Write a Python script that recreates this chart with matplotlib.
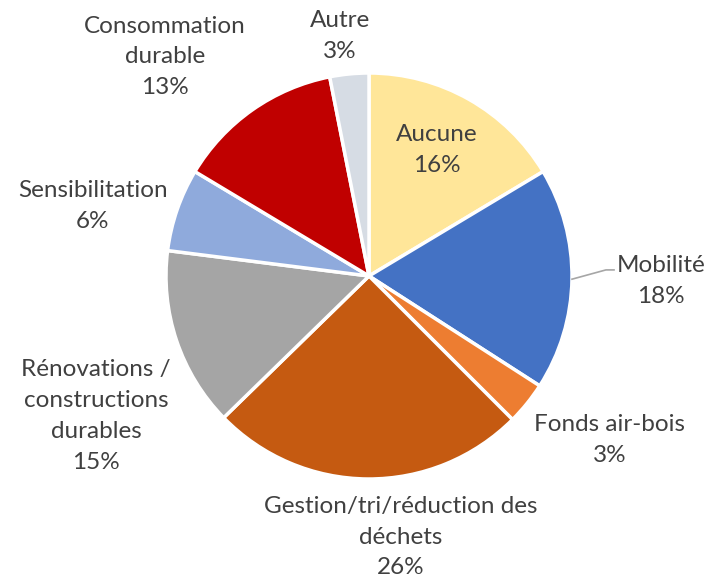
import numpy as np
import matplotlib
matplotlib.use("Agg")
import matplotlib.pyplot as plt

categories = ["Aucune", "Mobilité", "Fonds air-bois", "Gestion/tri/réduction des\ndéchets",
              "Rénovations /\nconstructions\ndurables", "Sensibilitation", "Consommation\ndurable", "Autre"]
values = [16.4, 17.7, 3.4, 25.2, 14.3, 6.6, 13.3, 3.1]
pct_labels = ["16%", "18%", "3%", "26%", "15%", "6%", "13%", "3%"]
colors = ["#FFE699", "#4472C4", "#ED7D31", "#C55A11", "#A5A5A5", "#8FAADC", "#C00000", "#D6DCE4"]

# label centres (in pie-radius units)
label_pos = [(0.335, 0.621), (1.438, -0.025), (1.187, -0.808), (0.158, -1.286),
             (-1.345, -0.690), (-1.360, 0.345), (-1.005, 1.079), (-0.143, 1.182)]

W, H = 709, 580
cx, cy, r = 369, 276, 203
fig = plt.figure(figsize=(W / 100, H / 100), dpi=100)
ax = fig.add_axes([0, 0, 1, 1])
ax.axis("off")

wedges, _ = ax.pie(values, colors=colors, startangle=90, counterclock=False, radius=1,
                   wedgeprops=dict(edgecolor="white", linewidth=2.5))
ax.set_xlim(-cx / r, (W - cx) / r)
ax.set_ylim(-(H - cy) / r, cy / r)
ax.set_aspect("equal")

tc = "#404040"
for cat, p, (x, y) in zip(categories, pct_labels, label_pos):
    ax.text(x, y, f"{cat}\n{p}", ha="center", va="center", multialignment="center",
            fontsize=17.5, color=tc, family="Lato", linespacing=1.58)

# leader line for Mobilité
w = wedges[1]
mid = np.deg2rad((w.theta1 + w.theta2) / 2)
x0, y0 = np.cos(mid), np.sin(mid)
ax.plot([x0, 1.167, 1.207], [y0, 0.03, 0.03], color="#A6A6A6", lw=1.2)

fig.savefig("out.png", dpi=100)
